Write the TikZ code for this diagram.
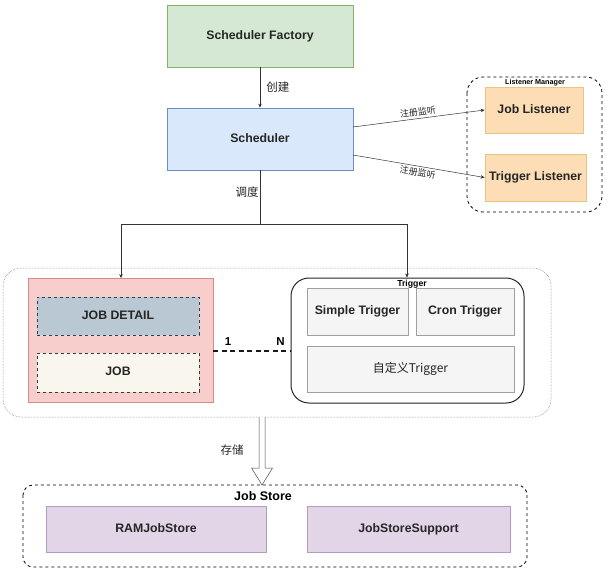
\documentclass[tikz,border=0pt]{standalone}
\usepackage{fontspec}
\setmainfont{Liberation Sans}
\newfontfamily\cjk{Noto Sans CJK SC}
\usetikzlibrary{arrows.meta}
\definecolor{gfill}{HTML}{D5E8D4}\definecolor{gline}{HTML}{82B366}
\definecolor{bfill}{HTML}{DAE8FC}\definecolor{bline}{HTML}{6C8EBF}
\definecolor{ofill}{HTML}{FCDDB6}\definecolor{oline}{HTML}{EEC37A}
\definecolor{rfill}{HTML}{F8CECC}\definecolor{rline}{HTML}{D88A87}
\definecolor{jdfill}{HTML}{BAC8D3}\definecolor{jdline}{HTML}{23445D}
\definecolor{jfill}{HTML}{F9F7ED}\definecolor{jline}{HTML}{36393D}
\definecolor{grfill}{HTML}{F5F5F5}\definecolor{grline}{HTML}{A0A0A0}
\definecolor{pfill}{HTML}{E1D5E7}\definecolor{pline}{HTML}{B49CC0}
\definecolor{edge}{HTML}{333333}
\tikzset{
  box/.style={draw, inner sep=0pt, font=\fontsize{12.3}{14}\selectfont\bfseries, text=black!85, line width=0.8pt, text height=9pt, text depth=2.6pt},
  lbl/.style={inner sep=0pt, font=\fontsize{11.5}{13}\selectfont\cjk, text=black!85},
  smalllbl/.style={inner sep=0pt, font=\fontsize{9}{10}\selectfont\cjk, text=black!85},
  conn/.style={draw=edge, line width=0.5pt, -{Stealth[length=4pt,width=3.5pt]}},
}
\begin{document}
\begin{tikzpicture}[x=1pt,y=-1pt]
\useasboundingbox[fill=white] (0,0) rectangle (612,576);
% top
\node[box, fill=gfill, draw=gline, minimum width=186, minimum height=62] (fac) at (260,36) {Scheduler Factory};
\node[box, fill=bfill, draw=bline, minimum width=186, minimum height=62] (sch) at (260,139) {Scheduler};
\draw[conn] (fac) -- (sch) node[lbl, pos=0.48, right=6pt] {创建};
% listener manager
\draw[dashed, line width=0.8pt, rounded corners=16pt] (467,77) rectangle (602,212);
\node[inner sep=0pt, font=\fontsize{7.2}{8}\selectfont\bfseries] (lmlbl) at (535,83) {Listener Manager};
\node[box, fill=ofill, draw=oline, minimum width=98, minimum height=46] (jl) at (534,110) {Job Listener};
\node[box, fill=ofill, draw=oline, minimum width=101, minimum height=47] (tl) at (535.5,177.5) {Trigger Listener};
\coordinate (s1) at (353,127);
\coordinate (s2) at (353,155);
\draw[conn] (s1) -- (jl.west) node[smalllbl, midway, sloped, above=2pt] {注册监听};
\draw[conn] (s2) -- (tl.west) node[smalllbl, midway, sloped, below=2pt] {注册监听};
% middle group
\draw[densely dotted, draw=black!60, line width=0.5pt, rounded corners=18pt] (3,268) rectangle (551,417);
\node[box, fill=rfill, draw=rline, minimum width=185, minimum height=124] (job) at (120.5,340.5) {};
\node[box, fill=jdfill, draw=jdline, dashed, minimum width=162, minimum height=38] (jd) at (118,316) {JOB DETAIL};
\node[box, fill=jfill, draw=jline, dashed, minimum width=162, minimum height=39] (jb) at (118,372.5) {JOB};
\node[draw=black!85, line width=1pt, rounded corners=18pt, inner sep=0pt, minimum width=233, minimum height=125] (trig) at (407.5,340.5) {};
\node[inner sep=0pt, font=\fontsize{8.7}{10}\selectfont\bfseries] (triglbl) at (412,284) {Trigger};
\node[box, fill=grfill, draw=grline, minimum width=101, minimum height=47] (st) at (357.5,311.5) {Simple Trigger};
\node[box, fill=grfill, draw=grline, minimum width=98, minimum height=47] (ct) at (465,311.5) {Cron Trigger};
\node[box, fill=grfill, draw=grline, minimum width=207, minimum height=46, font=\fontsize{12}{14}\selectfont\cjk] (zt) at (410.5,369) {自定义Trigger};
\draw[line width=1.4pt, draw=black!90, dash pattern=on 5pt off 3.5pt] (job.east |- 0,351) coordinate (d1) -- (trig.west |- 0,351) coordinate (d2);
\node[inner sep=0pt, font=\fontsize{11.5}{13}\selectfont\bfseries] (one) at (228,342) {1};
\node[inner sep=0pt, font=\fontsize{11.5}{13}\selectfont\bfseries] (nn) at (280.5,342) {N};
% scheduler distribution
\coordinate (split) at (260,224);
\coordinate (lft) at (121,224);
\coordinate (rgt) at (407,224);
\draw[draw=edge, line width=0.5pt] (sch.south) -- (split);
\node[lbl] (dd) at (247,192) {调度};
\draw[conn] (split) -- (lft) -- (lft |- job.north);
\draw[conn] (split) -- (rgt) -- (rgt |- trig.north);
% job store
\draw[dashed, line width=0.8pt, rounded corners=10pt] (23,485) rectangle (527,567);
\node[inner sep=0pt, font=\fontsize{12.5}{14}\selectfont\bfseries] (jslbl) at (263,496) {Job Store};
\node[box, fill=pfill, draw=pline, minimum width=220, minimum height=46] (ram) at (156,529) {RAMJobStore};
\node[box, fill=pfill, draw=pline, minimum width=203, minimum height=46] (sup) at (408.5,529) {JobStoreSupport};
% hollow arrow
\coordinate (ha) at (262,417);
\coordinate (hb) at (262,485);
\draw[draw=black!70, fill=white, line width=0.5pt] (259,417) -- (259,468) -- (251.5,468) -- (hb) -- (272.5,468) -- (265,468) -- (265,417);
\node[lbl] (cc) at (232,450) {存储};
\end{tikzpicture}
\end{document}
